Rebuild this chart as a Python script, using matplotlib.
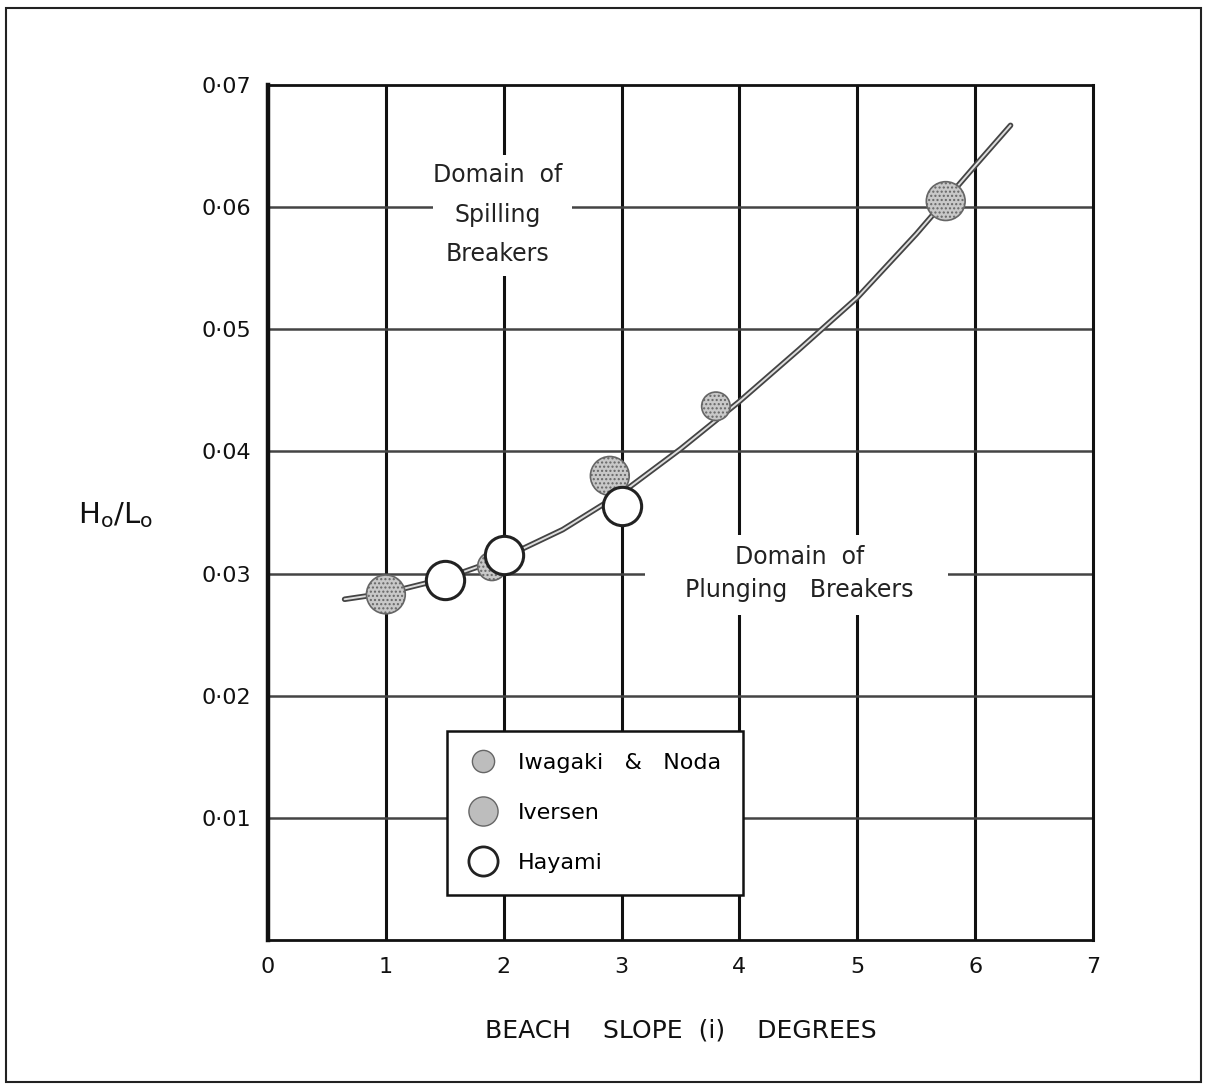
import numpy as np
import matplotlib
matplotlib.use('Agg')
import matplotlib.pyplot as plt
from matplotlib.patches import Rectangle
from matplotlib.lines import Line2D

# === Dados ===
# curva limite entre arrebentação deslizante e mergulhante
curva_x = [0.65, 1.0, 1.5, 2.0, 2.5, 3.0, 3.5, 4.0, 4.5, 5.0, 5.5, 6.0, 6.3]
curva_y = [0.0279, 0.0284, 0.0296, 0.0313, 0.0336, 0.0366, 0.0402, 0.0441,
           0.0483, 0.0526, 0.0578, 0.0634, 0.0667]

iwagaki_x = [1.9, 3.8]
iwagaki_y = [0.0306, 0.0437]

iversen_x = [1.0, 2.9, 5.75]
iversen_y = [0.0283, 0.0380, 0.0605]

hayami_x = [1.5, 2.0, 3.0]
hayami_y = [0.0295, 0.0315, 0.0355]

x_ticks = [0, 1, 2, 3, 4, 5, 6, 7]
y_ticks = [0.01, 0.02, 0.03, 0.04, 0.05, 0.06, 0.07]
y_labels = ['0·01', '0·02', '0·03', '0·04', '0·05', '0·06', '0·07']

# === Figura ===
fig = plt.figure(figsize=(12.05, 10.89), dpi=100)
ax = fig.add_axes([0.2224, 0.1368, 0.6847, 0.7851])
ax.set_xlim(0, 7)
ax.set_ylim(0, 0.07)

# moldura externa
fig.patches.append(Rectangle((0.005, 0.006), 0.992, 0.987, transform=fig.transFigure,
                             fill=False, edgecolor='#222', linewidth=1.5))

# grade: verticais fortes, horizontais mais leves
for xv in x_ticks[1:-1]:
    ax.axvline(xv, color='#111', linewidth=2.2, zorder=1)
for yv in y_ticks[:-1]:
    ax.axhline(yv, color='#444', linewidth=1.8, zorder=1)

for lado, lw in [('left', 3.2), ('right', 2.2), ('top', 2.0), ('bottom', 2.0)]:
    ax.spines[lado].set_linewidth(lw)
    ax.spines[lado].set_color('#111')

ax.set_xticks(x_ticks)
ax.set_xticklabels([str(v) for v in x_ticks])
ax.set_yticks(y_ticks)
ax.set_yticklabels(y_labels)
ax.tick_params(length=0, labelsize=16, pad=12, colors='#111')

ax.set_xlabel('BEACH    SLOPE  (i)    DEGREES', fontsize=18, labelpad=30, color='#111')
fig.text(0.096, 0.527, r'$\mathregular{H_o/L_o}$', fontsize=21, ha='center',
         va='center', color='#111')

# fundos brancos que interrompem a grade atrás dos textos
ax.add_patch(Rectangle((1.40, 0.0544), 1.18, 0.0099, facecolor='white',
                       edgecolor='none', zorder=2))
ax.add_patch(Rectangle((3.20, 0.0266), 2.57, 0.0066, facecolor='white',
                       edgecolor='none', zorder=2))

ax.text(1.95, 0.0594, 'Domain  of\nSpilling\nBreakers', fontsize=17, ha='center',
        va='center', linespacing=1.8, color='#222', zorder=3)
ax.text(4.51, 0.0300, 'Domain  of\nPlunging   Breakers', fontsize=17, ha='center',
        va='center', linespacing=1.5, color='#222', zorder=3)

# curva (traço duplo, como desenhado a nanquim)
ax.plot(curva_x, curva_y, color='#444', linewidth=4.0, solid_capstyle='round', zorder=4)
ax.plot(curva_x, curva_y, color='#dddddd', linewidth=1.4, solid_capstyle='round', zorder=4)

# pontos
ax.scatter(iwagaki_x, iwagaki_y, s=420, facecolor='#c8c8c8', edgecolor='#666',
           linewidth=1.2, hatch='....', zorder=5)
ax.scatter(iversen_x, iversen_y, s=780, facecolor='#c8c8c8', edgecolor='#666',
           linewidth=1.2, hatch='....', zorder=5)
ax.scatter(hayami_x, hayami_y, s=760, facecolor='white', edgecolor='#222',
           linewidth=2.2, zorder=6)

# legenda
handles = [
    Line2D([], [], linestyle='none', marker='o', markersize=16,
           markerfacecolor='#bdbdbd', markeredgecolor='#666'),
    Line2D([], [], linestyle='none', marker='o', markersize=21,
           markerfacecolor='#bdbdbd', markeredgecolor='#666'),
    Line2D([], [], linestyle='none', marker='o', markersize=21,
           markerfacecolor='white', markeredgecolor='#222', markeredgewidth=2),
]
leg = ax.legend(handles, ['Iwagaki   &   Noda', 'Iversen', 'Hayami'],
                loc='lower left', bbox_to_anchor=(0.217, 0.0526),
                borderaxespad=0, fontsize=16, frameon=True, fancybox=False,
                framealpha=1, handletextpad=1.0, labelspacing=1.35,
                borderpad=1.0, handlelength=1.2)
leg.get_frame().set_edgecolor('#111')
leg.get_frame().set_linewidth(1.8)
leg.set_zorder(7)

fig.savefig('out.png', dpi=100)
